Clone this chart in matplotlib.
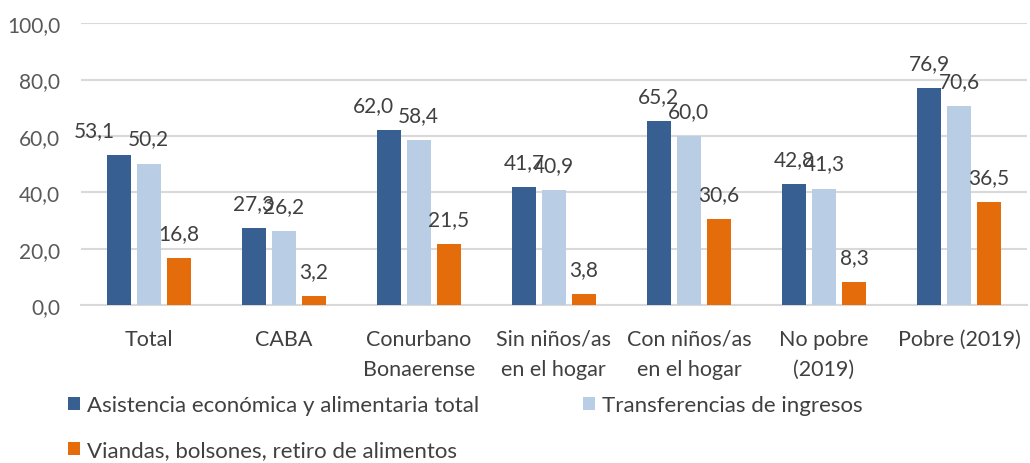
import matplotlib
matplotlib.use("Agg")
import matplotlib.pyplot as plt
from matplotlib.patches import Patch
import numpy as np

categories = ["Total", "CABA", "Conurbano\nBonaerense", "Sin niños/as\nen el hogar",
              "Con niños/as\nen el hogar", "No pobre\n(2019)", "Pobre (2019)"]
asistencia_total = [53.1, 27.3, 62.0, 41.7, 65.2, 42.8, 76.9]
transferencias = [50.2, 26.2, 58.4, 40.9, 60.0, 41.3, 70.6]
viandas = [16.8, 3.2, 21.5, 3.8, 30.6, 8.3, 36.5]
series_names = ["Asistencia económica y alimentaria total",
                "Transferencias de ingresos",
                "Viandas, bolsones, retiro de alimentos"]
yticks = [0, 20, 40, 60, 80, 100]

colors = ["#375F91", "#B9CDE5", "#E46C0A"]
# manual label x-offsets (pixels) for first series, as in the reference
label_dx_first = [-24, 0, -15, 0, 0, 0, 0]

plt.rcParams['font.family'] = ['Lato', 'DejaVu Sans']
TXT = "#404040"

fig = plt.figure(figsize=(10.30, 4.64), dpi=100)
ax = fig.add_axes([0.0787, 0.3405, 0.918, 0.6075])

x = np.arange(len(categories))
step = 0.222
width = 0.178
series = [asistencia_total, transferencias, viandas]
for i, (vals, col) in enumerate(zip(series, colors)):
    pos = x + (i - 1) * step
    ax.bar(pos, vals, width=width, color=col, zorder=3)
    for j, (p, v) in enumerate(zip(pos, vals)):
        dx = label_dx_first[j] if i == 0 else 0
        ax.annotate(f"{v:.1f}".replace(".", ","), (p, v), xytext=(dx * 0.72, 18),
                    textcoords="offset points", ha="center", va="center",
                    fontsize=15, color=TXT, zorder=4)

ax.set_xlim(-0.5, len(categories) - 0.5)
ax.set_ylim(0, 100)
ax.set_yticks(yticks)
ax.set_yticklabels([f"{t:.1f}".replace(".", ",") for t in yticks], fontsize=15, color="#595959")
ax.set_xticks(x)
ax.set_xticklabels(categories, fontsize=15.5, color=TXT, linespacing=1.65)
ax.tick_params(axis="both", length=0)
ax.tick_params(axis="y", pad=15)
ax.tick_params(axis="x", pad=17)
ax.yaxis.grid(True, color="#D9D9D9", linewidth=1.5, zorder=0)
for s in ["top", "right", "left"]:
    ax.spines[s].set_visible(False)
ax.spines["bottom"].set_color("#D9D9D9")
ax.spines["bottom"].set_linewidth(1.5)

handles = [Patch(facecolor=c, edgecolor="none") for c in colors]
leg_kw = dict(loc="upper left", frameon=False, fontsize=16, labelcolor=TXT,
              handlelength=0.55, handleheight=0.55, handletextpad=0.3,
              borderpad=0, borderaxespad=0, labelspacing=1.12)
leg1 = fig.legend([handles[0], handles[2]], [series_names[0], series_names[2]],
                  bbox_to_anchor=(0.066, 0.146), **leg_kw)
leg2 = fig.legend([handles[1]], [series_names[1]],
                  bbox_to_anchor=(0.566, 0.146), **leg_kw)

fig.savefig("out.png", dpi=100)
